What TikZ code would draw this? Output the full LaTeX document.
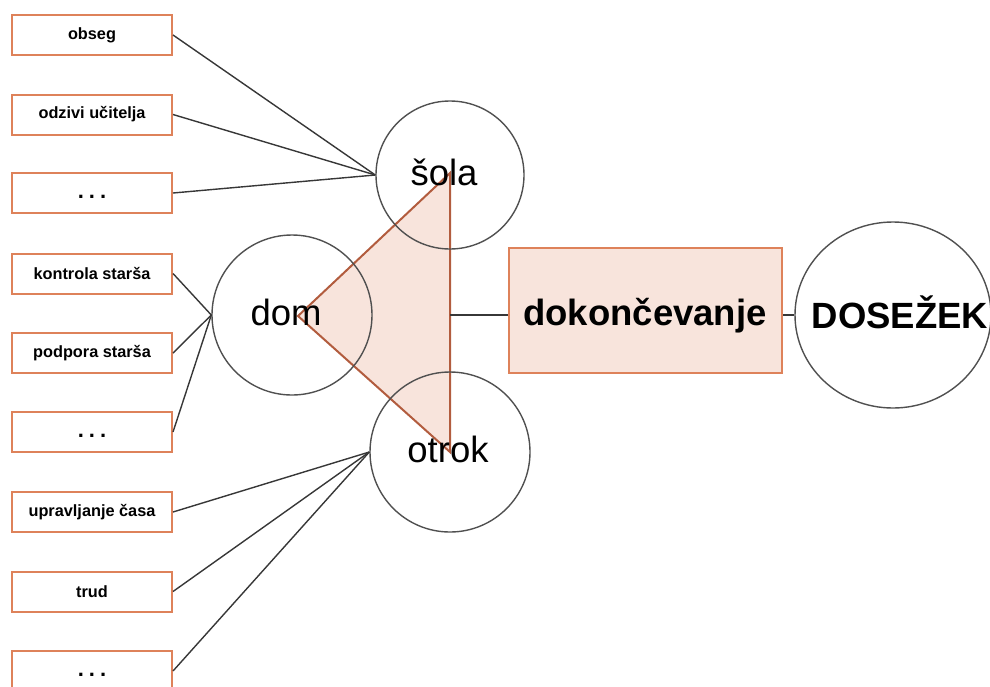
\documentclass[tikz,border=0pt]{standalone}
\usepackage{fontspec}
\setmainfont{Liberation Sans}
\usetikzlibrary{shapes.geometric}

\definecolor{edgeorange}{RGB}{222,130,90}
\definecolor{tribrown}{RGB}{178,92,62}
\definecolor{pinkfill}{RGB}{248,228,220}
\definecolor{linegrey}{RGB}{55,55,55}
\definecolor{ringgrey}{RGB}{80,80,80}

% three bold dots sitting slightly below the box centre
\newcommand{\ellipsisdots}{\smash{\raisebox{-5pt}{.\hspace{5pt}.\hspace{5pt}.}}}

\begin{document}
\begin{tikzpicture}[x=1pt,y=-1pt,
  factor/.style={draw=edgeorange, line width=2pt, fill=white,
    minimum width=160pt, minimum height=40pt, inner sep=0pt,
    font=\fontsize{16.3}{18}\selectfont\bfseries},
  dots/.style={factor, font=\fontsize{22}{24}\selectfont\bfseries},
  ring/.style={circle, draw=ringgrey, line width=1.4pt, inner sep=0pt},
  bigtext/.style={font=\fontsize{36.5}{40}\selectfont, inner sep=0pt, anchor=base},
  link/.style={draw=linegrey, line width=1.4pt}]

\useasboundingbox (0,0) rectangle (990,686);
\clip (0,0) rectangle (990,686);

% triangle joining the three spheres
\fill[pinkfill] (298,316) -- (450,173) -- (450,452) -- cycle;
\draw[tribrown, line width=2pt, line join=miter] (298,316) -- (450,173) -- (450,452) -- cycle;
\coordinate (tri) at (450,315);

% spheres
\node[ring, minimum size=148pt] (sola) at (450,175) {};
\node[ring, minimum size=160pt] (dom) at (292,315) {};
\node[ring, minimum size=160pt] (otrok) at (450,452) {};

% factor boxes
\node[factor] (f1) at (92,35) {obseg};
\node[factor] (f2) at (92,114.5) {odzivi učitelja};
\node[dots]   (f3) at (92,193) {\ellipsisdots};
\node[factor] (f4) at (92,273.5) {kontrola starša};
\node[factor] (f5) at (92,353) {podpora starša};
\node[dots]   (f6) at (92,432) {\ellipsisdots};
\node[factor] (f7) at (92,512) {upravljanje časa};
\node[factor] (f8) at (92,591.5) {trud};
\node[dots]   (f9) at (92,671) {\ellipsisdots};

% outcome chain
\node[draw=edgeorange, line width=2pt, fill=pinkfill, minimum width=273pt,
      minimum height=125pt, inner sep=0pt] (dok) at (645.5,310.5) {};
\node[ellipse, draw=ringgrey, line width=1.4pt, minimum width=196pt,
      minimum height=186pt, inner sep=0pt] (dos) at (893,315) {};

% connectors
\foreach \f in {f1,f2,f3} \draw[link] (\f.east) -- (sola.west);
\foreach \f in {f4,f5,f6} \draw[link] (\f.east) -- (dom.west);
\foreach \f in {f7,f8,f9} \draw[link] (\f.east) -- (otrok.west);
\draw[link] (tri) -- (tri -| dok.west);
\draw[link] (dok.east |- dos.west) -- (dos.west);

% labels
\node[bigtext] (tsola) at (444,185) {šola};
\node[bigtext] (tdom) at (286,325) {dom};
\node[bigtext] (totrok) at (448,462) {otrok};
\node[bigtext, font=\fontsize{36.5}{40}\selectfont\bfseries] (tdok) at (645,325) {dokončevanje};
\node[bigtext, font=\fontsize{36.5}{40}\selectfont\bfseries] (tdos) at (900,328) {DOSEŽEK};
\end{tikzpicture}
\end{document}
